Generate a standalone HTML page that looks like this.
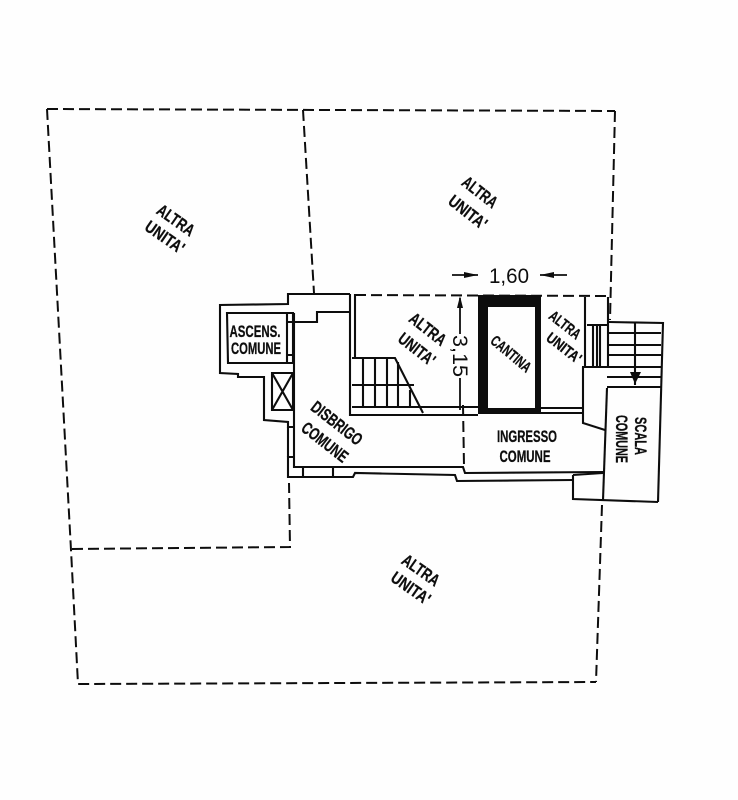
<!DOCTYPE html>
<html><head><meta charset="utf-8"><style>
html,body{margin:0;padding:0;background:#fff;width:738px;height:800px;overflow:hidden}
svg{display:block}
text{font-family:"Liberation Sans",sans-serif;fill:#111;font-weight:bold;text-anchor:middle}
.t{font-size:17px;stroke:#111;stroke-width:.3}
.n{font-weight:normal;font-size:21px}
</style></head><body>
<svg width="738" height="800" viewBox="0 0 738 800" xmlns="http://www.w3.org/2000/svg">
<defs><filter id="b" x="-5%" y="-5%" width="110%" height="110%"><feGaussianBlur stdDeviation="0.35"/></filter></defs>
<rect width="738" height="800" fill="#fefefe"/>
<g filter="url(#b)">
<g fill="none" stroke="#111" stroke-width="2" stroke-dasharray="11 5">
<path d="M47 109L615 111"/>
<path d="M47 109L71 550L78 684L596 682"/>
<path d="M615 111L610 320"/>
<path d="M602 505L596 682"/>
<path d="M303 110L314 293"/>
<path d="M72 549L290 547L289 483"/>
<path d="M355 295L608 296"/>
<path d="M463 405L464 466"/>
</g>
<g fill="none" stroke="#111" stroke-width="2.1">
<path d="M350 294H288V304L220 305V373L238 374V377H264V420L288 422V427H294M294 457H288V477H353L355 473L455 475L457 481L573 480"/>
<path d="M288 427V457"/>
<path d="M227 313H293V363H228Z"/>
<path d="M287 313V363M287 322H293M287 355H293"/>
<path d="M293 322H317V312H350"/>
<path d="M294 313V467H463L465 473L603 472"/>
<path d="M272 373H293V410H272ZM272 373L293 410M293 373L272 410"/>
<path d="M303 467V477M333 467V477"/>
<path d="M350 294V415H478"/>
<path d="M355 294V358"/>
<path d="M352 358H395L423 413"/>
<path d="M352 385H414M352 407H478"/>
<path d="M363 358V407M375 358V407M387 358V407M398 362V407M410 390V407"/>
<path d="M541 408H583M541 413H583"/>
<path d="M585 297V367M608 297V367M587 325H608M593 325V367M597 325V367M600 325V367"/>
<path d="M582 367H607M583 367V423L605 430"/>
<path d="M573 475L603 473M573 475V499L658 502"/>
<path d="M609 322L663 323L658 502"/>
<path d="M608 333H661M608 345H661M608 355H661M607 367H661M607 377H661M607 387H661"/>
<path d="M635 322V385"/>
<path d="M607 388L603 500"/>
</g>
<g fill="#111">
<rect x="478" y="295" width="63" height="12"/>
<rect x="478" y="295" width="10" height="119"/>
<rect x="535" y="295" width="6" height="119"/>
<rect x="478" y="408" width="63" height="6"/>
<path d="M630 372H641L635 384Z"/>
</g>
<g fill="none" stroke="#111" stroke-width="1.8">
<path d="M452 275H478M540 275H567"/>
<path d="M460 298V334M460 378V410"/>
</g>
<path d="M464 272L478 275L464 278ZM554 272L540 275L554 278Z" fill="#111"/>
<path d="M460 296L457 308H463Z" fill="#111"/>
<text class="n" x="509" y="283" textLength="40" lengthAdjust="spacingAndGlyphs">1,60</text>
<text class="n" transform="translate(453,356) rotate(90)" textLength="42" lengthAdjust="spacingAndGlyphs">3,15</text>
<text class="t" transform="translate(176,220) rotate(35) translate(0,6)" textLength="42" lengthAdjust="spacingAndGlyphs">ALTRA</text>
<text class="t" transform="translate(165,237) rotate(35) translate(0,6)" textLength="44" lengthAdjust="spacingAndGlyphs">UNITA'</text>
<text class="t" transform="translate(480,192) rotate(38) translate(0,6)" textLength="40" lengthAdjust="spacingAndGlyphs">ALTRA</text>
<text class="t" transform="translate(468,212) rotate(38) translate(0,6)" textLength="44" lengthAdjust="spacingAndGlyphs">UNITA'</text>
<text class="t" transform="translate(428,329) rotate(38) translate(0,6)" textLength="42" lengthAdjust="spacingAndGlyphs">ALTRA</text>
<text class="t" transform="translate(417,349) rotate(38) translate(0,6)" textLength="42" lengthAdjust="spacingAndGlyphs">UNITA'</text>
<text class="t" transform="translate(565,325) rotate(38) translate(0,5)" style="font-size:15px" textLength="36" lengthAdjust="spacingAndGlyphs">ALTRA</text>
<text class="t" transform="translate(564,348) rotate(38) translate(0,5)" style="font-size:15px" textLength="40" lengthAdjust="spacingAndGlyphs">UNITA'</text>
<text class="t" transform="translate(421,570) rotate(35) translate(0,6)" textLength="42" lengthAdjust="spacingAndGlyphs">ALTRA</text>
<text class="t" transform="translate(411,588) rotate(35) translate(0,6)" textLength="44" lengthAdjust="spacingAndGlyphs">UNITA'</text>
<text class="t" transform="translate(511,354) rotate(40) translate(0,5)" style="font-size:15px" textLength="48" lengthAdjust="spacingAndGlyphs">CANTINA</text>
<text class="t" transform="translate(337,423) rotate(38) translate(0,6)" textLength="60" lengthAdjust="spacingAndGlyphs">DISBRIGO</text>
<text class="t" transform="translate(325,442) rotate(38) translate(0,6)" textLength="54" lengthAdjust="spacingAndGlyphs">COMUNE</text>
<text class="t" x="255" y="337" textLength="51" lengthAdjust="spacingAndGlyphs">ASCENS.</text>
<text class="t" x="256" y="354" textLength="50" lengthAdjust="spacingAndGlyphs">COMUNE</text>
<text class="t" x="527" y="442" textLength="60" lengthAdjust="spacingAndGlyphs">INGRESSO</text>
<text class="t" x="525" y="462" textLength="51" lengthAdjust="spacingAndGlyphs">COMUNE</text>
<text class="t" transform="translate(635,436) rotate(90)" textLength="38" lengthAdjust="spacingAndGlyphs">SCALA</text>
<text class="t" transform="translate(616,439) rotate(90)" textLength="48" lengthAdjust="spacingAndGlyphs">COMUNE</text>
</g>
</svg>
</body></html>
